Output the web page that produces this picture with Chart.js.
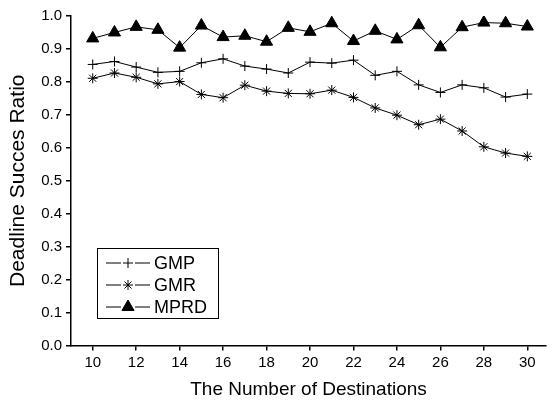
<!DOCTYPE html>
<html>
<head>
<meta charset="utf-8">
<script src="https://cdn.jsdelivr.net/npm/chart.js@4.4.1/dist/chart.umd.min.js"></script>
<style>
  html, body { margin: 0; padding: 0; background: #fff; }
  #wrap { width: 554px; height: 401px; position: relative; }
</style>
</head>
<body>
<div id="wrap"><canvas id="ratio-chart" width="554" height="401"></canvas></div>
<script>
// Data
const destinations = [10, 11, 12, 13, 14, 15, 16, 17, 18, 19, 20, 21, 22, 23, 24, 25, 26, 27, 28, 29, 30];
const gmp  = [0.853, 0.862, 0.845, 0.829, 0.832, 0.858, 0.870, 0.848, 0.839, 0.827, 0.860, 0.857, 0.866, 0.820, 0.832, 0.791, 0.768, 0.791, 0.782, 0.754, 0.763];
const gmr  = [0.811, 0.827, 0.814, 0.794, 0.801, 0.762, 0.752, 0.790, 0.772, 0.765, 0.764, 0.775, 0.753, 0.721, 0.699, 0.670, 0.687, 0.651, 0.603, 0.584, 0.574];
const mprd = [0.932, 0.950, 0.967, 0.958, 0.904, 0.971, 0.936, 0.940, 0.922, 0.964, 0.952, 0.978, 0.924, 0.955, 0.929, 0.972, 0.905, 0.966, 0.980, 0.978, 0.968];
const xTicks = [10, 12, 14, 16, 18, 20, 22, 24, 26, 28, 30];

const FONT = '"Liberation Sans", Arial, sans-serif';
Chart.defaults.font.family = FONT;
Chart.defaults.color = '#000';

function series(label, values, style, radius) {
  return {
    label: label,
    data: destinations.map((d, i) => ({ x: d, y: values[i] })),
    borderColor: '#000',
    backgroundColor: '#000',
    borderWidth: 1,
    pointStyle: style,
    pointRadius: radius,
    pointBorderWidth: 1,
    pointBorderColor: '#000',
    pointBackgroundColor: '#000',
    tension: 0
  };
}

// Boxed legend in the lower-left of the plot
const boxLegend = {
  id: 'boxLegend',
  afterDraw(chart) {
    const ctx = chart.ctx;
    const area = chart.chartArea;
    const bx = area.left + 26, by = area.top + 232, bw = 121, bh = 70;
    ctx.save();
    ctx.strokeStyle = '#000';
    ctx.lineWidth = 1;
    ctx.strokeRect(bx + 0.5, by + 0.5, bw, bh);
    ctx.font = '18px ' + FONT;
    ctx.fillStyle = '#000';
    ctx.textBaseline = 'middle';
    chart.data.datasets.forEach((ds, i) => {
      const cy = by + 15 + i * 22;
      ctx.beginPath();
      ctx.moveTo(bx + 9, cy);
      ctx.lineTo(bx + 53, cy);
      ctx.lineWidth = 1;
      ctx.stroke();
      ctx.fillStyle = '#fff';
      ctx.fillRect(bx + 24, cy - 7, 14, 14);
      ctx.fillStyle = '#000';
      Chart.helpers.drawPoint(ctx, {
        pointStyle: ds.pointStyle, radius: ds.pointRadius, rotation: 0, borderWidth: 1
      }, bx + 31, cy);
      ctx.fillText(ds.label, bx + 57, cy + 1);
    });
    ctx.restore();
  }
};

const chart = new Chart(document.getElementById('ratio-chart').getContext('2d'), {
  type: 'line',
  data: {
    datasets: [
      series('GMP', gmp, 'cross', 5),
      series('GMR', gmr, 'star', 5),
      series('MPRD', mprd, 'triangle', 7)
    ]
  },
  options: {
    responsive: false,
    animation: false,
    layout: { padding: { top: 16, right: 0, left: 0, bottom: 0 } },
    plugins: {
      legend: { display: false },
      tooltip: { enabled: false }
    },
    scales: {
      x: {
        type: 'linear',
        min: 9,
        max: 30.86,
        afterBuildTicks: (scale) => { scale.ticks = xTicks.map(v => ({ value: v })); },
        afterFit: (scale) => { scale.height = 55.5; },
        ticks: { font: { size: 15 }, padding: 3, maxRotation: 0, autoSkip: false },
        grid: { drawOnChartArea: false, drawTicks: true, tickLength: 5, color: '#000', lineWidth: 1.5 },
        border: { display: true, color: '#000', width: 1.5 },
        title: { display: true, text: 'The Number of Destinations', font: { size: 19 }, padding: { top: 2, bottom: 0 } }
      },
      y: {
        min: 0,
        max: 1.0,
        afterFit: (scale) => { scale.width = 71; },
        ticks: { stepSize: 0.1, font: { size: 15 }, padding: 4, callback: (v) => v.toFixed(1) },
        grid: { drawOnChartArea: false, drawTicks: true, tickLength: 5, color: '#000', lineWidth: 1.5 },
        border: { display: true, color: '#000', width: 1.5 },
        title: { display: true, text: 'Deadline Succes Ratio', font: { size: 21 }, padding: { top: 6, bottom: 0 } }
      }
    }
  },
  plugins: [boxLegend]
});
</script>
</body>
</html>
